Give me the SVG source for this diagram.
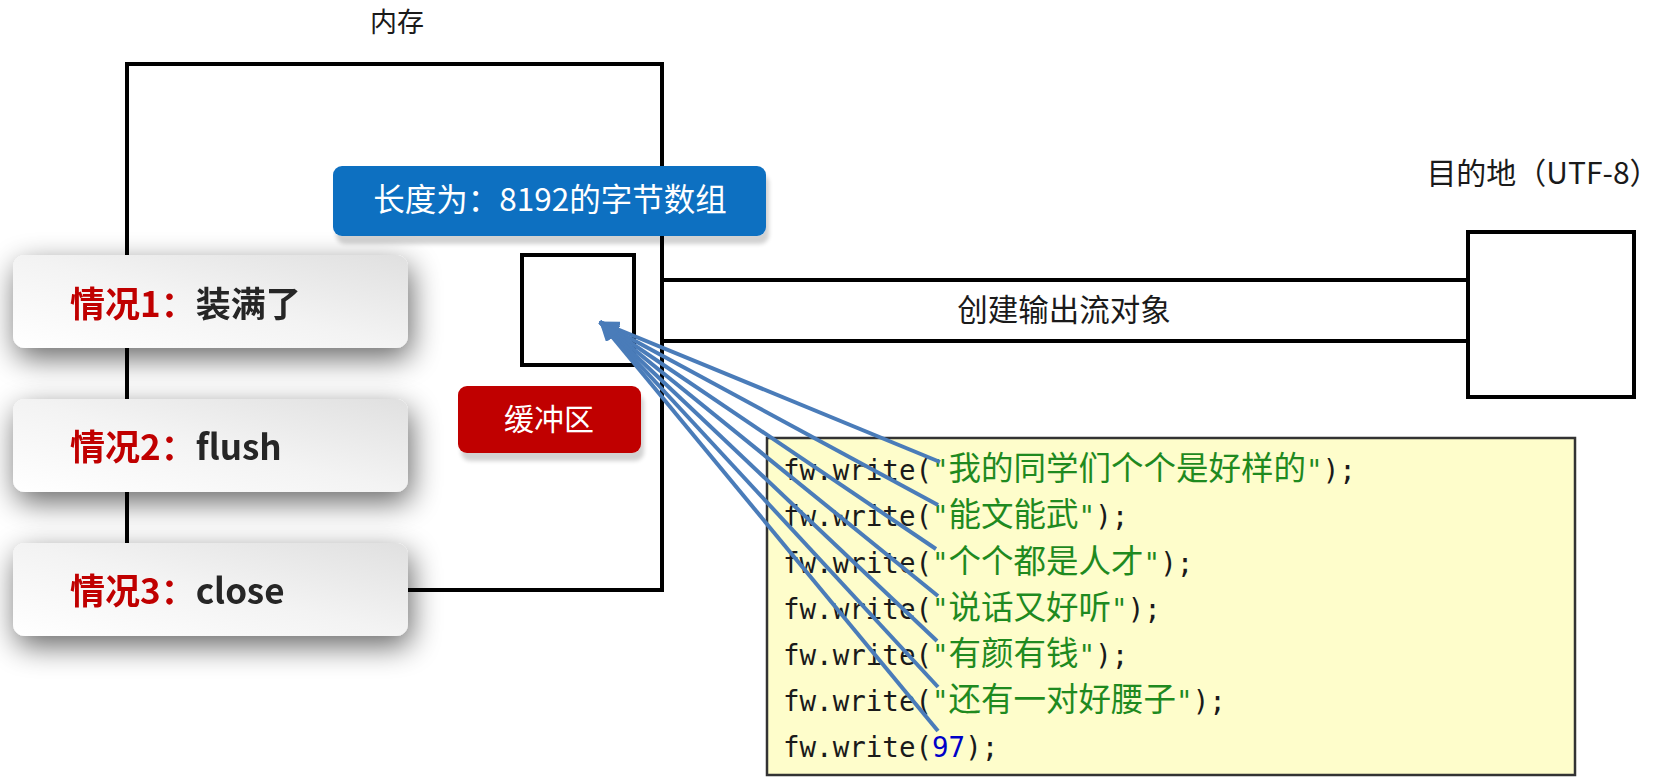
<svg xmlns="http://www.w3.org/2000/svg" width="1672" height="784" viewBox="0 0 1672 784">
<defs>
  <style>
    .ln{fill:none;stroke:#000;stroke-width:4}
    .lbl{font-family:"Noto Sans CJK SC","Liberation Sans",sans-serif;fill:#1a1a1a}
    .wt{font-family:"Noto Sans CJK SC","Liberation Sans",sans-serif;fill:#fff}
    .card{font-family:"Noto Sans CJK SC","Liberation Sans",sans-serif;font-weight:bold;font-size:35px;fill:#262626}
    .red{fill:#C00000}
    .code{font-family:"DejaVu Sans Mono","Liberation Mono",monospace;font-size:27.5px;fill:#1a1a1a}
    .cjk{font-family:"Noto Sans CJK SC",sans-serif;font-size:32.5px;fill:#1F8A1F}
    .str{fill:#1F8A1F}
    .num{fill:#0000C8}
    .arr{stroke:#4A7CB9;stroke-width:4;fill:none;marker-end:url(#ah)}
  </style>
  <linearGradient id="cardg" x1="0" y1="1" x2="1" y2="0">
    <stop offset="0" stop-color="#FFFFFF"/>
    <stop offset="0.5" stop-color="#F3F3F3"/>
    <stop offset="1" stop-color="#E0E0E0"/>
  </linearGradient>
  <filter id="cshadow" x="-25%" y="-50%" width="150%" height="210%">
    <feGaussianBlur in="SourceAlpha" stdDeviation="15"/>
    <feOffset dx="3" dy="10" result="b"/>
    <feComponentTransfer><feFuncA type="linear" slope="0.6"/></feComponentTransfer>
    <feMerge><feMergeNode/><feMergeNode in="SourceGraphic"/></feMerge>
  </filter>
  <filter id="bshadow" x="-10%" y="-20%" width="120%" height="160%">
    <feGaussianBlur in="SourceAlpha" stdDeviation="2"/>
    <feOffset dx="3" dy="8" result="b"/>
    <feComponentTransfer><feFuncA type="linear" slope="0.18"/></feComponentTransfer>
    <feMerge><feMergeNode/><feMergeNode in="SourceGraphic"/></feMerge>
  </filter>
  <marker id="ah" viewBox="0 0 20 16" refX="19" refY="8" markerWidth="20" markerHeight="16" markerUnits="userSpaceOnUse" orient="auto">
    <path d="M0,0 L20,8 L0,16 Z" fill="#4A7CB9"/>
  </marker>
</defs>
<rect width="1672" height="784" fill="#fff"/>

<g id="memory">
  <text class="lbl" x="397" y="32" font-size="27" text-anchor="middle">内存</text>
  <rect class="ln" x="127" y="64" width="535" height="526"/>
</g>

<g id="buffer-array">
  <rect class="ln" x="522" y="255" width="112" height="110"/>
</g>

<g id="array-label">
  <rect x="333" y="166" width="433" height="70" rx="9" fill="#0F6FC1" filter="url(#bshadow)"/>
  <text class="wt" x="550" y="211" font-size="31.5" text-anchor="middle">长度为：8192的字节数组</text>
</g>

<g id="buffer-label">
  <rect x="458" y="386" width="183" height="67" rx="9" fill="#C00000" filter="url(#bshadow)"/>
  <text class="wt" x="549" y="430" font-size="30" text-anchor="middle">缓冲区</text>
</g>

<g id="stream">
  <line class="ln" x1="662" y1="280" x2="1468" y2="280"/>
  <line class="ln" x1="662" y1="341" x2="1468" y2="341"/>
  <text class="lbl" x="1064" y="321" font-size="30.5" text-anchor="middle">创建输出流对象</text>
</g>

<g id="destination">
  <text class="lbl" x="1543" y="184" font-size="30" text-anchor="middle">目的地（UTF-8）</text>
  <rect class="ln" x="1468" y="232" width="166" height="165"/>
</g>

<g id="case1" filter="url(#cshadow)">
  <rect x="13" y="255" width="395" height="93" rx="12" fill="url(#cardg)"/>
  <text class="card" x="70" y="317"><tspan class="red">情况1：</tspan>装满了</text>
</g>
<g id="case2" filter="url(#cshadow)">
  <rect x="13" y="399" width="395" height="93" rx="12" fill="url(#cardg)"/>
  <text class="card" x="70" y="460"><tspan class="red">情况2：</tspan>flush</text>
</g>
<g id="case3" filter="url(#cshadow)">
  <rect x="13" y="543" width="395" height="93" rx="12" fill="url(#cardg)"/>
  <text class="card" x="70" y="604"><tspan class="red">情况3：</tspan>close</text>
</g>

<g id="code">
  <rect x="767" y="438" width="808" height="337" fill="#FEFDCB" stroke="#333" stroke-width="2.5"/>
  <text class="code" x="783" y="480">fw.write(<tspan class="str">"</tspan><tspan class="cjk">我的同学们个个是好样的</tspan><tspan class="str">"</tspan>);</text>
  <text class="code" x="783" y="526">fw.write(<tspan class="str">"</tspan><tspan class="cjk">能文能武</tspan><tspan class="str">"</tspan>);</text>
  <text class="code" x="783" y="573">fw.write(<tspan class="str">"</tspan><tspan class="cjk">个个都是人才</tspan><tspan class="str">"</tspan>);</text>
  <text class="code" x="783" y="619">fw.write(<tspan class="str">"</tspan><tspan class="cjk">说话又好听</tspan><tspan class="str">"</tspan>);</text>
  <text class="code" x="783" y="665">fw.write(<tspan class="str">"</tspan><tspan class="cjk">有颜有钱</tspan><tspan class="str">"</tspan>);</text>
  <text class="code" x="783" y="711">fw.write(<tspan class="str">"</tspan><tspan class="cjk">还有一对好腰子</tspan><tspan class="str">"</tspan>);</text>
  <text class="code" x="783" y="757">fw.write(<tspan class="num">97</tspan>);</text>
</g>

<g id="connectors">
  <line class="arr" x1="940" y1="462" x2="600" y2="322"/>
  <line class="arr" x1="938" y1="505" x2="600" y2="322"/>
  <line class="arr" x1="936" y1="549" x2="600" y2="322"/>
  <line class="arr" x1="938" y1="596" x2="600" y2="322"/>
  <line class="arr" x1="937" y1="641" x2="600" y2="322"/>
  <line class="arr" x1="938" y1="687" x2="600" y2="322"/>
  <line class="arr" x1="938" y1="731" x2="600" y2="322"/>
</g>
</svg>
